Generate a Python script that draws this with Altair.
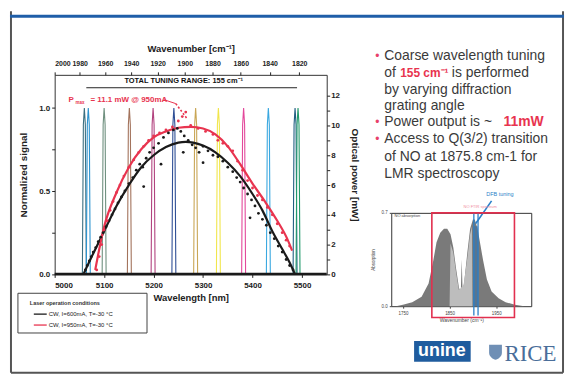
import altair as alt
import pandas as pd

# ---------------- data ----------------
# laser spectra (normalized), centre wavelength [nm] and colour
peak_centers = [5060, 5068, 5100, 5151, 5199, 5241, 5285, 5331, 5382, 5432, 5486, 5492]
peak_colors = ['#3b6f80', '#2c93cf', '#6f907f', '#a3735c', '#b2437f', '#2f4f96',
               '#c9a655', '#f1e64c', '#e3489b', '#3aa8e0', '#215f82', '#219a6b']
peak_offsets = [-4, -2, 0, 2, 4]          # nm around centre
peak_profile = [0.0, 0.9, 1.0, 0.9, 0.0]  # normalized signal

# fitted optical power curves [mW]
black_fit_nm = [5058, 5075, 5100, 5125, 5150, 5175, 5200, 5225, 5250, 5265, 5280, 5300,
                5325, 5350, 5375, 5400, 5420, 5440, 5460, 5475, 5486]
black_fit_mw = [0.0, 1.2, 2.9, 4.6, 6.0, 7.2, 8.0, 8.55, 8.85, 8.9, 8.85, 8.65,
                8.2, 7.5, 6.6, 5.4, 4.3, 2.9, 1.7, 0.8, 0.0]
red_fit_nm = [5082, 5100, 5125, 5150, 5175, 5200, 5225, 5250, 5275, 5300, 5325, 5350,
              5375, 5400, 5425, 5450, 5470, 5480]
red_fit_mw = [0.3, 3.2, 5.5, 7.2, 8.4, 9.2, 9.6, 9.85, 9.9, 9.8, 9.4, 8.6,
              7.4, 6.1, 4.9, 3.6, 2.4, 1.6]

# measured points
black_pts_nm = [5062, 5066, 5070, 5074, 5078, 5083, 5088, 5093, 5098, 5104, 5110, 5116, 5122,
                5128, 5135, 5142, 5150, 5158, 5165, 5172, 5178, 5185, 5192, 5200, 5210, 5220,
                5230, 5240, 5248, 5255, 5262, 5270, 5278, 5285, 5292, 5300, 5310, 5320, 5330,
                5340, 5350, 5360, 5368, 5375, 5382, 5390, 5398, 5405, 5412, 5420, 5428, 5436,
                5444, 5452, 5460, 5468, 5475, 5482, 5180, 5215, 5260, 5300, 5395]
black_pts_mw = [0.3, 0.6, 0.9, 1.2, 1.5, 1.8, 2.2, 2.5, 2.8, 3.2, 3.6, 4.0, 4.4,
                4.8, 5.2, 5.6, 6.1, 6.5, 7.0, 7.4, 7.2, 7.8, 8.2, 8.5, 8.8, 9.2,
                9.5, 9.7, 9.8, 9.6, 9.3, 9.0, 8.7, 8.5, 8.2, 8.6, 8.3, 8.0, 7.9,
                7.6, 7.2, 6.9, 6.5, 6.2, 5.8, 5.4, 5.0, 4.6, 4.1, 3.7, 3.3, 2.8,
                2.4, 1.9, 1.5, 1.0, 0.6, 0.3, 5.9, 7.4, 8.2, 7.5, 3.8]
red_pts_nm = [5085, 5090, 5095, 5100, 5106, 5112, 5118, 5125, 5132, 5140, 5150, 5160, 5170,
              5180, 5190, 5200, 5212, 5225, 5238, 5250, 5258, 5265, 5275, 5290, 5305, 5320,
              5330, 5340, 5350, 5360, 5370, 5380, 5390, 5400, 5410, 5420, 5430, 5440, 5450,
              5460, 5468, 5475]
red_pts_mw = [0.3, 1.2, 2.0, 3.0, 3.6, 4.3, 4.9, 5.5, 6.0, 6.6, 7.2, 7.7, 8.2,
              8.6, 9.0, 9.3, 9.5, 9.7, 9.9, 10.3, 10.6, 10.9, 10.0, 9.8, 9.6, 9.4,
              9.0, 8.8, 8.6, 8.3, 7.6, 7.0, 6.3, 5.8, 5.3, 5.0, 4.5, 4.0, 3.4,
              2.8, 2.3, 1.9]

wavelength_ticks = [5000, 5100, 5200, 5300, 5400, 5500]
wavenumber_ticks = [2000, 1980, 1960, 1940, 1920, 1900, 1880, 1860, 1840, 1820]
tuning_nm = [5064, 5490]

# inset: NO absorption spectrum
inset_wn = [1735, 1750, 1770, 1790, 1805, 1815, 1822, 1830, 1838, 1845, 1852, 1858, 1864,
            1870, 1874, 1876, 1878, 1882, 1888, 1894, 1900, 1904, 1910, 1916, 1922, 1930,
            1940, 1955, 1970, 1990, 2010]
inset_abs = [0.0, 0.01, 0.03, 0.07, 0.17, 0.34, 0.48, 0.55, 0.58, 0.58, 0.54, 0.44, 0.28,
             0.14, 0.1, 0.35, 0.1, 0.2, 0.4, 0.58, 0.65, 0.65, 0.58, 0.46, 0.34, 0.2,
             0.11, 0.06, 0.03, 0.01, 0.0]
inset_light_wn = [1850, 1852, 1858, 1864, 1870, 1880, 1888, 1894, 1898, 1899]
inset_light_abs = [0.0, 0.47, 0.4, 0.25, 0.12, 0.16, 0.36, 0.54, 0.6, 0.0]
inset_ticks = [1750, 1800, 1850, 1900, 1950, 2000]
dfb_wn = [1902, 1911]

# ---------------- tables ----------------
peak_rows = []
for i, c in enumerate(peak_centers):
    for o, p in zip(peak_offsets, peak_profile):
        peak_rows.append({'peak': f'p{i:02d}', 'nm': c + o, 'sig': p})
peaks_df = pd.DataFrame(peak_rows)
fit_df = pd.DataFrame({'nm': black_fit_nm + red_fit_nm,
                       'mw': black_fit_mw + red_fit_mw,
                       'series': ['600'] * len(black_fit_nm) + ['950'] * len(red_fit_nm)})
pts_df = pd.DataFrame({'nm': black_pts_nm + red_pts_nm,
                       'mw': black_pts_mw + red_pts_mw,
                       'series': ['600'] * len(black_pts_nm) + ['950'] * len(red_pts_nm)})

FONT = 'Liberation Sans'
INK = '#222222'
RED = '#e8344f'
W, H = 274, 201

xsc = alt.Scale(domain=[5000, 5550], nice=False, zero=False)
ysc_n = alt.Scale(domain=[0, 1.2], nice=False)
ysc_p = alt.Scale(domain=[0, 13.4], nice=False)
ser_col = alt.Scale(domain=['600', '950'], range=['#1a1a1a', RED])

ax = dict(labelFont=FONT, labelFontWeight='bold', labelColor=INK, labelOverlap=False,
          titleFont=FONT, titleFontWeight='bold', titleColor=INK, domain=False,
          tickColor=INK, tickSize=3, grid=False)

peaks = alt.Chart(peaks_df).mark_line(strokeWidth=1.1).encode(
    x=alt.X('nm:Q', scale=xsc, axis=alt.Axis(values=wavelength_ticks, format='d', labelFontSize=8,
            title='Wavelength [nm]', titleFontSize=9.5, labelPadding=4, titlePadding=3, **ax)),
    y=alt.Y('sig:Q', scale=ysc_n, axis=alt.Axis(values=[0, 0.25, 0.5, 0.75, 1.0], labelFontSize=8,
            labelExpr="(datum.value*2) % 1 == 0 ? format(datum.value, '.1f') : ''",
            title='Normalized signal', titleFontSize=10, labelPadding=2, titlePadding=10, **ax)),
    color=alt.Color('peak:N', scale=alt.Scale(domain=[f'p{i:02d}' for i in range(len(peak_centers))],
                    range=peak_colors), legend=None))

fits = alt.Chart(fit_df).mark_line(strokeWidth=2.2, interpolate='monotone').encode(
    x=alt.X('nm:Q', scale=xsc, axis=None),
    y=alt.Y('mw:Q', scale=ysc_p, axis=alt.Axis(orient='right', values=list(range(13)), labelFontSize=8,
            labelExpr="datum.value % 2 == 0 ? datum.value : ''",
            title='Optical power [mW]', titleFontSize=10, labelPadding=1, titlePadding=10, **ax)),
    color=alt.Color('series:N', scale=ser_col, legend=None))

pts = alt.Chart(pts_df).mark_circle(size=8, opacity=1).encode(
    x=alt.X('nm:Q', scale=xsc, axis=None),
    y=alt.Y('mw:Q', scale=ysc_p, axis=None),
    color=alt.Color('series:N', scale=ser_col, legend=None))

top = alt.Chart(pd.DataFrame({'a': [tuning_nm[0]], 'b': [tuning_nm[1]]})).mark_rule(
    color=INK, strokeWidth=1).encode(
    x=alt.X('a:Q', scale=xsc, axis=alt.Axis(orient='top', values=[1e7 / w for w in wavenumber_ticks],
            labelExpr="format(round(1e7 / datum.value), 'd')", title='Wavenumber [cm⁻¹]',
            labelFontSize=7, titleFontSize=9.5, labelPadding=5, titlePadding=7, **ax)),
    x2='b:Q', y=alt.value(13))

baseline = alt.Chart(pd.DataFrame({'a': [0]})).mark_rule(color='#1a1a1a', strokeWidth=2.5).encode(
    x=alt.value(0), x2=alt.value(W), y=alt.value(H - 0.5))


def texts(rows, align='left', weight='normal', font=FONT, baseline='middle'):
    df = pd.DataFrame(rows, columns=['x', 'y', 't', 'c', 's'])
    return alt.Chart(df).mark_text(align=align, baseline=baseline, font=font, fontWeight=weight).encode(
        x=alt.X('x:Q', scale=None), y=alt.Y('y:Q', scale=None), text='t:N',
        color=alt.Color('c:N', scale=None), size=alt.Size('s:Q', scale=None))


def rules(rows, dash=None):
    df = pd.DataFrame(rows, columns=['x', 'y', 'x2', 'y2', 'c', 'w'])
    kw = {} if dash is None else {'strokeDash': dash}
    return alt.Chart(df).mark_rule(**kw).encode(
        x=alt.X('x:Q', scale=None), y=alt.Y('y:Q', scale=None),
        x2='x2:Q', y2='y2:Q', color=alt.Color('c:N', scale=None),
        size=alt.Size('w:Q', scale=None))


# slide frame and decorations (pixel offsets from the plot origin)
bounds = alt.Chart(pd.DataFrame({'a': [0]})).mark_rect(fillOpacity=0, strokeOpacity=0).encode(
    x=alt.value(-45), x2=alt.value(513), y=alt.value(-64), y2=alt.value(301))
frame = rules([[-44, -64, -44, 300, '#555555', 2],
               [512, -64, 512, 300, '#555555', 2],
               [-44, 300, 512, 300, '#555555', 2],
               [-45, -59, 513, -59, '#1f5ea8', 3]])
legend_box = alt.Chart(pd.DataFrame({'a': [0]})).mark_rect(fill='white', stroke='#444444', strokeWidth=1).encode(
    x=alt.value(-37), x2=alt.value(93), y=alt.value(220), y2=alt.value(260))
legend_lines = rules([[-21, 241, -8, 241, '#1a1a1a', 1.3], [-21, 252, -8, 252, RED, 1.3]])
legend_txt = texts([[-6, 241, 'CW, I=600mA, T=-30 °C', '#222222', 6],
                    [-6, 252, 'CW, I=950mA, T=-30 °C', '#222222', 6]])
legend_head = texts([[-25, 230, 'Laser operation conditions', '#333333', 5.5]], weight='bold')

pmax_txt = texts([[14, 25, 'P', RED, 8], [36, 25, '= 11.1 mW @ 950mA', RED, 8]], weight='bold')
pmax_sub = texts([[21, 28, 'max', RED, 4.5]], weight='bold')
pmax_lead = rules([[110, 25, 122, 29, RED, 1]])
pmax_dot = rules([[122, 29, 134, 45, RED, 1.6]], dash=[2, 2])
tuning_txt = texts([[130, 10, 'TOTAL TUNING RANGE:   155 cm⁻¹', '#111111', 7.5]],
                   align='center', weight='bold', baseline='bottom')

# bullet text on the right
TX = 332
bul = texts([[325, -19, '•', '#e8406a', 12], [325, 48, '•', '#e8406a', 12],
             [325, 65, '•', '#e8406a', 12]], align='center')
body = texts([[TX, -19, 'Coarse wavelength tuning', '#3a3a3a', 14],
              [TX, -2, 'of', '#3a3a3a', 14],
              [400, -2, 'is performed', '#3a3a3a', 14],
              [TX, 15, 'by varying  diffraction', '#3a3a3a', 14],
              [TX, 31, 'grating angle', '#3a3a3a', 14],
              [TX, 48, 'Power output is ~', '#3a3a3a', 14],
              [TX, 65, 'Access to Q(3/2) transition', '#3a3a3a', 14],
              [TX, 83, 'of NO at 1875.8 cm-1 for', '#3a3a3a', 14],
              [TX, 100, 'LMR spectroscopy', '#3a3a3a', 14]])
body_red = texts([[348, -2, '155 cm⁻¹', RED, 12], [452, 48, '11mW', RED, 14]], weight='bold')

# logos
unine_box = alt.Chart(pd.DataFrame({'a': [0]})).mark_rect(fill='#1f5c9e').encode(
    x=alt.value(362), x2=alt.value(419), y=alt.value(268), y2=alt.value(289))
unine_txt = texts([[390, 278, 'unine', 'white', 18]], align='center', weight='bold')
rice_txt = texts([[453, 281, 'RICE', '#4a6e9a', 23]], font='Liberation Serif')
shield = alt.Chart(pd.DataFrame({'a': [0]})).mark_point(
    shape='M-0.8,-0.9 L0.8,-0.9 L0.8,0.1 C0.8,0.6 0.3,0.9 0,1 C-0.3,0.9 -0.8,0.6 -0.8,0.1 Z',
    filled=True, size=260, color='#6f8fb5', opacity=1).encode(x=alt.value(444), y=alt.value(279))

main = alt.layer(
    bounds, frame, legend_box, legend_lines, legend_txt, legend_head,
    peaks, baseline, fits, pts, top,
    pmax_txt, pmax_sub, pmax_lead, pmax_dot, tuning_txt,
    bul, body, body_red, unine_box, unine_txt, rice_txt, shield
).resolve_scale(x='independent', y='independent', color='independent').properties(width=W, height=H)

# ---------------- inset ----------------
isx = alt.Scale(domain=[1725, 2025], nice=False, zero=False)
isy = alt.Scale(domain=[0, 0.7], nice=False)
iax = dict(labelFont=FONT, labelFontSize=4.5, labelColor='#444444', labelOverlap=False, titleFont=FONT,
           titleColor='#444444', titleFontWeight='normal', tickSize=2, tickColor='#444444',
           domain=False, grid=False)
inset_area = alt.Chart(pd.DataFrame({'wn': inset_wn, 'a': inset_abs})).mark_area(
    color='#7a7a7a', opacity=1).encode(
    x=alt.X('wn:Q', scale=isx, axis=alt.Axis(values=inset_ticks, format='d', title='Wavenumber (cm⁻¹)',
            titleFontSize=5, labelPadding=2, titlePadding=3, **iax)),
    y=alt.Y('a:Q', scale=isy, axis=alt.Axis(values=[0, 0.1, 0.2, 0.3, 0.4, 0.5, 0.6, 0.7], format='.1f',
            title='Absorption', titleFontSize=4.5, labelPadding=2, titlePadding=6, **iax)))
inset_light = alt.Chart(pd.DataFrame({'wn': inset_light_wn, 'a': inset_light_abs})).mark_area(
    color='#bdbdbd', opacity=1).encode(x=alt.X('wn:Q', scale=isx), y=alt.Y('a:Q', scale=isy))
dfb_df = pd.DataFrame({'a': [dfb_wn[0]], 'b': [dfb_wn[1]]})
dfb_band = alt.Chart(dfb_df).mark_rect(color='#2a6fb0', opacity=0.45).encode(
    x=alt.X('a:Q', scale=isx), x2='b:Q', y=alt.datum(0, scale=isy), y2=alt.datum(0.6))
dfb_lines = alt.Chart(pd.DataFrame({'wn': dfb_wn})).mark_rule(color='#2a7fc8', strokeWidth=1.3).encode(
    x=alt.X('wn:Q', scale=isx), y=alt.datum(-0.07, scale=isy), y2=alt.datum(0.7))
arrow = alt.Chart(pd.DataFrame({'x': [1940], 'x2': [1906], 'y': [0.79], 'y2': [0.62]})).mark_rule(
    color='#2a7fc8', strokeWidth=1.6).encode(
    x=alt.X('x:Q', scale=isx), x2='x2:Q', y=alt.Y('y:Q', scale=isy), y2='y2:Q')
dfb_txt = alt.Chart(pd.DataFrame({'x': [1958], 'y': [0.84], 't': ['DFB tuning']})).mark_text(
    color='#2a7fc8', fontSize=5.5, font=FONT).encode(
    x=alt.X('x:Q', scale=isx), y=alt.Y('y:Q', scale=isy), text='t:N')
red_box = alt.Chart(pd.DataFrame({'x': [1812], 'x2': [1989], 'y': [-0.085], 'y2': [0.7]})).mark_rect(
    fillOpacity=0, stroke='#e2304f', strokeWidth=1.6).encode(
    x=alt.X('x:Q', scale=isx), x2='x2:Q', y=alt.Y('y:Q', scale=isy), y2='y2:Q')
inset_lbls = alt.Chart(pd.DataFrame({'x': [1880, 1732], 'y': [0.745, 0.675],
                                     't': ['NO FTIR spectrum', 'NO absorption'],
                                     'c': ['#f08aa0', '#444444']})).mark_text(
    fontSize=4, font=FONT, align='left').encode(
    x=alt.X('x:Q', scale=isx), y=alt.Y('y:Q', scale=isy), text='t:N', color=alt.Color('c:N', scale=None))

inset = alt.layer(inset_area, inset_light, dfb_band, dfb_lines, arrow, dfb_txt, red_box, inset_lbls
                  ).properties(width=141, height=94)

spacer = alt.Chart(pd.DataFrame({'a': [0]})).mark_point(opacity=0).encode(
    x=alt.value(0), y=alt.value(0)).properties(width=141, height=129,
                                                view=alt.ViewBackground(stroke='transparent'))

right_col = alt.vconcat(spacer, inset, spacing=10, bounds='flush')
chart = alt.hconcat(main, right_col, spacing=65, bounds='flush').properties(
    padding=0, background='white').configure_view(stroke='#333333', strokeWidth=1)

chart.save('out.html', embed_options={'renderer': 'svg', 'actions': False})
